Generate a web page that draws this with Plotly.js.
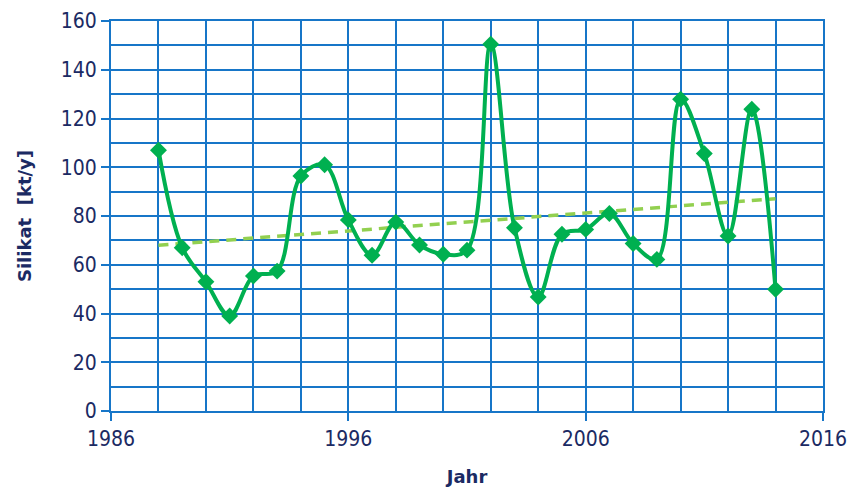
<!DOCTYPE html>
<html>
<head>
<meta charset="utf-8">
<script src="https://cdn.plot.ly/plotly-3.0.1.min.js"></script>
<style>html,body{margin:0;padding:0;background:#fff;}#chart{width:855px;height:488px;}</style>
</head>
<body>
<div id="chart"></div>
<script>
const years = [1988,1989,1990,1991,1992,1993,1994,1995,1996,1997,1998,1999,2000,2001,2002,2003,2004,2005,2006,2007,2008,2009,2010,2011,2012,2013,2014];
const silikat = [107,67,53,39,55.4,57.4,96.4,101,78.4,63.9,77.5,68.1,64.3,66,150.5,75.2,46.8,72.5,74.5,81,68.7,62.2,127.9,105.6,71.8,123.8,49.9];
const trendYears = [1988, 2014];
const trendValues = [68, 87.1];
const xTickVals = [1986, 1996, 2006, 2016];
const yTickVals = [0,20,40,60,80,100,120,140,160];

const blue = '#1776C8';
const navy = '#1B2A63';
const tickFont = {family: '"DejaVu Sans Condensed", "Liberation Sans Narrow", sans-serif', size: 21, color: navy};
const titleFont = {family: '"DejaVu Sans", sans-serif', size: 18, color: navy, weight: 'bold'};

const traces = [
  {
    x: trendYears, y: trendValues, mode: 'lines', type: 'scatter',
    line: {color: '#92D050', width: 3.5, dash: '10px,7px'},
    hoverinfo: 'skip', showlegend: false
  },
  {
    x: years, y: silikat, mode: 'lines+markers', type: 'scatter',
    line: {color: '#00B050', width: 4, shape: 'spline', smoothing: 1},
    marker: {symbol: 'diamond', size: 13, color: '#00B050'},
    showlegend: false
  }
];

const layout = {
  width: 855, height: 488,
  margin: {l: 111, r: 32, t: 21, b: 77},
  paper_bgcolor: '#fff', plot_bgcolor: '#fff',
  xaxis: {
    range: [1986, 2016], tickmode: 'array', tickvals: xTickVals, ticktext: xTickVals.map(String),
    ticks: 'outside', ticklen: 8, tickwidth: 2, tickcolor: blue,
    showgrid: true, gridcolor: blue, gridwidth: 2,
    minor: {dtick: 2, tick0: 1986, showgrid: true, gridcolor: blue, gridwidth: 2, ticks: ''},
    showline: true, linecolor: blue, linewidth: 2, mirror: true,
    zeroline: false, tickfont: tickFont,
    title: {text: 'Jahr', font: titleFont, standoff: 20}
  },
  yaxis: {
    range: [0, 160], tickmode: 'array', tickvals: yTickVals,
    ticks: 'outside', ticklen: 8, tickwidth: 2, tickcolor: blue,
    showgrid: true, gridcolor: blue, gridwidth: 2,
    minor: {dtick: 10, tick0: 0, showgrid: true, gridcolor: blue, gridwidth: 2, ticks: ''},
    showline: true, linecolor: blue, linewidth: 2, mirror: true,
    zeroline: false, tickfont: tickFont,
    title: {text: 'Silikat  [kt/y]', font: titleFont, standoff: 24}
  }
};

Plotly.newPlot('chart', traces, layout, {displayModeBar: false, staticPlot: true});
</script>
</body>
</html>
